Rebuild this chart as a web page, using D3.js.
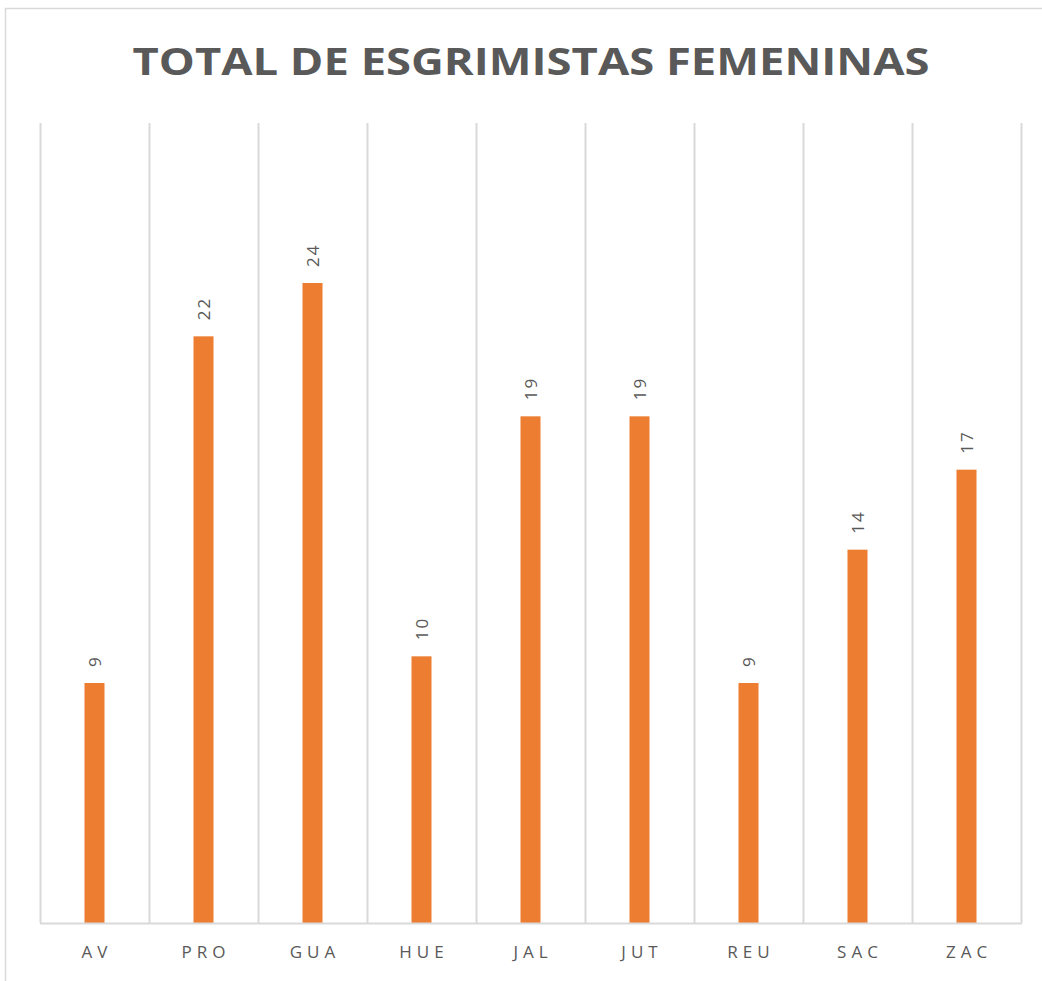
<!DOCTYPE html>
<html>
<head>
<meta charset="utf-8">
<script src="https://cdn.jsdelivr.net/npm/d3@7"></script>
<style>
  body { margin: 0; background: #fff; }
  svg { display: block; }
</style>
</head>
<body>
<div id="chartDiv"></div>
<script>
// data
var categories = ["AV", "PRO", "GUA", "HUE", "JAL", "JUT", "REU", "SAC", "ZAC"];
var values = [9, 22, 24, 10, 19, 19, 9, 14, 17];
var titleText = "TOTAL DE ESGRIMISTAS FEMENINAS";

var width = 1042, height = 981;
var plotLeft = 40, plotRight = 1021, plotTop = 123, plotBottom = 923;

var svg = d3.select("#chartDiv")
            .append("svg")
            .attr("width", width)
            .attr("height", height);

// frame (top + left edges only visible)
svg.append("path")
   .attr("d", "M5.5," + height + "V8.5H" + width)
   .attr("fill", "none")
   .attr("stroke", "#d9d9d9")
   .attr("stroke-width", 1.5);

svg.append("text")
   .attr("x", 531)
   .attr("y", 75)
   .attr("text-anchor", "middle")
   .attr("font-family", "'Open Sans', sans-serif")
   .attr("font-weight", "bold")
   .attr("font-size", 38)
   .attr("fill", "#595959")
   .attr("textLength", 797)
   .attr("lengthAdjust", "spacingAndGlyphs")
   .text(titleText);

var xScale = d3.scaleBand()
               .domain(categories)
               .range([plotLeft, plotRight]);

var yScale = d3.scaleLinear()
               .domain([0, 30])
               .range([plotBottom, plotTop]);

// vertical gridlines at category boundaries
var edges = categories.map(function(d) { return xScale(d); }).concat([plotRight]);
svg.selectAll("line.grid")
   .data(edges)
   .enter()
   .append("line")
   .attr("class", "grid")
   .attr("x1", function(d) { return Math.round(d) + 0.5; })
   .attr("x2", function(d) { return Math.round(d) + 0.5; })
   .attr("y1", plotTop)
   .attr("y2", plotBottom)
   .attr("stroke", "#d9d9d9")
   .attr("stroke-width", 2);

var barW = 20;
svg.selectAll("rect.bar")
   .data(values)
   .enter()
   .append("rect")
   .attr("class", "bar")
   .attr("x", function(d, i) { return xScale(categories[i]) + xScale.bandwidth() / 2 - barW / 2; })
   .attr("y", function(d) { return yScale(d); })
   .attr("width", barW)
   .attr("height", function(d) { return plotBottom - yScale(d); })
   .attr("fill", "#ED7D31");

// baseline
svg.append("line")
   .attr("x1", plotLeft).attr("x2", plotRight + 1)
   .attr("y1", plotBottom + 0.5).attr("y2", plotBottom + 0.5)
   .attr("stroke", "#d9d9d9")
   .attr("stroke-width", 2);

// rotated value labels
svg.selectAll("text.val")
   .data(values)
   .enter()
   .append("text")
   .attr("class", "val")
   .attr("transform", function(d, i) {
       var cx = xScale(categories[i]) + xScale.bandwidth() / 2;
       return "translate(" + cx + "," + (yScale(d) - 16) + ") rotate(-90)";
   })
   .attr("dy", "0.36em")
   .attr("font-family", "'Open Sans', sans-serif")
   .attr("font-size", 17)
   .attr("letter-spacing", 2)
   .attr("fill", "#595959")
   .text(function(d) { return d; });

// category labels
var xAxis = svg.append("g")
   .attr("transform", "translate(0," + plotBottom + ")")
   .call(d3.axisBottom(xScale).tickSize(0).tickPadding(23));
xAxis.select(".domain").remove();
xAxis.selectAll("text")
   .attr("font-family", "'Open Sans', sans-serif")
   .attr("font-size", 17)
   .attr("letter-spacing", 5)
   .attr("fill", "#595959")
   .attr("dx", 2.5);
</script>
</body>
</html>
